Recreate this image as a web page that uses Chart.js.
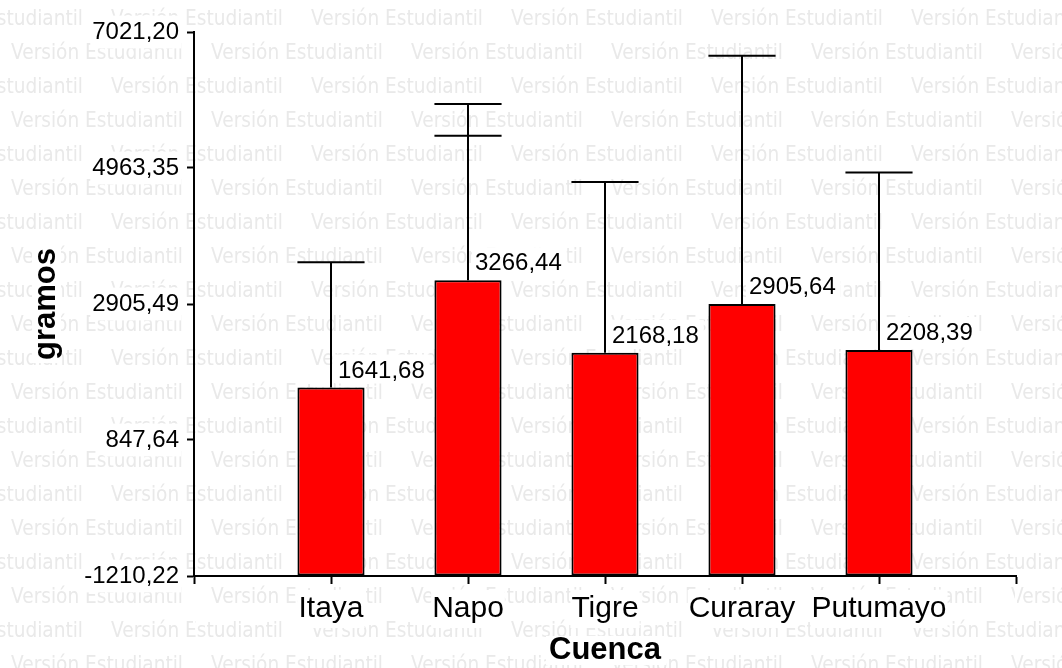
<!DOCTYPE html>
<html>
<head>
<meta charset="utf-8">
<script src="https://cdn.jsdelivr.net/npm/chart.js@4.4.1/dist/chart.umd.min.js"></script>
<style>
    html, body { margin: 0; padding: 0; background: #fff; }
    #wrap { width: 1062px; height: 668px; }
</style>
</head>
<body>
<div id="wrap"><canvas id="cuencaChart" width="1062" height="668"></canvas></div>
<script>
var categories = ['Itaya', 'Napo', 'Tigre', 'Curaray', 'Putumayo'];
var means = [1641.68, 3266.44, 2168.18, 2905.64, 2208.39];
var upperErr = [3539, 5931, 4750, 6662, 4895];
var extraCap = [null, 5451, null, null, null];
var yTicks = [-1210.22, 847.64, 2905.49, 4963.35, 7021.20];
var xTicks = [-1, 0, 1, 2, 3, 4, 5];
var yTitle = 'gramos';
var xTitle = 'Cuenca';
var watermark = 'Versión Estudiantil';

(function () {
    var family = '"Liberation Sans", Arial, sans-serif';
    var numFont = '24px ' + family;

    function fmt(v) {
        return v.toFixed(2).replace('.', ',');
    }

    // light grey "Versión Estudiantil" tiling behind everything
    var watermarkPlugin = {
        id: 'watermark',
        beforeDraw: function (chart) {
            var ctx = chart.ctx;
            ctx.save();
            ctx.fillStyle = '#fff';
            ctx.fillRect(0, 0, chart.width, chart.height);
            ctx.font = '21.5px "DejaVu Sans", sans-serif';
            ctx.fillStyle = '#e9e9e9';
            ctx.textBaseline = 'alphabetic';
            var sx = 172 / ctx.measureText(watermark).width;
            for (var k = 0; k < 20; k++) {
                var y = 25 + 34 * k;
                var start = k % 2 === 0 ? -89 : 11;
                for (var x = start; x < chart.width; x += 200) {
                    ctx.save();
                    ctx.translate(x, y);
                    ctx.scale(sx, 1);
                    ctx.fillText(watermark, 0, 0);
                    ctx.restore();
                }
            }
            ctx.restore();
        }
    };

    function boxedText(ctx, text, x, y, align) {
        var w = ctx.measureText(text).width;
        var left = align === 'center' ? x - w / 2 : x;
        ctx.fillStyle = '#fff';
        ctx.fillRect(left - 3, y - 23, w + 8, 29);
        ctx.fillStyle = '#000';
        ctx.textAlign = align;
        ctx.fillText(text, x, y);
    }

    var errorBarPlugin = {
        id: 'errorBars',
        afterDatasetsDraw: function (chart) {
            var ctx = chart.ctx;
            var xs = chart.scales.x;
            var ys = chart.scales.y;
            var meta = chart.getDatasetMeta(0);

            ctx.save();
            ctx.strokeStyle = '#000';
            ctx.lineWidth = 2;
            means.forEach(function (m, i) {
                var bar = meta.data[i];
                var x = Math.round(xs.getPixelForValue(i));
                var half = bar.width / 2;
                var yb = ys.getPixelForValue(m);
                var yt = ys.getPixelForValue(upperErr[i]);

                ctx.beginPath();
                ctx.moveTo(x, yb);
                ctx.lineTo(x, yt);
                ctx.moveTo(x - half, yt);
                ctx.lineTo(x + half, yt);
                if (extraCap[i] != null) {
                    var ye = ys.getPixelForValue(extraCap[i]);
                    ctx.moveTo(x - half, ye);
                    ctx.lineTo(x + half, ye);
                }
                ctx.stroke();
            });

            ctx.font = numFont;
            ctx.textBaseline = 'alphabetic';
            means.forEach(function (m, i) {
                var x = xs.getPixelForValue(i);
                var yb = ys.getPixelForValue(m);
                boxedText(ctx, fmt(m), x + 7, yb - 10, 'left');
            });
            ctx.restore();
        },
        afterDraw: function (chart) {
            var ctx = chart.ctx;
            var area = chart.chartArea;
            ctx.save();
            ctx.font = 'bold 31px ' + family;
            ctx.textBaseline = 'alphabetic';
            boxedText(ctx, xTitle, (area.left + area.right) / 2, 659, 'center');

            ctx.translate(55, (area.top + area.bottom) / 2);
            ctx.rotate(-Math.PI / 2);
            boxedText(ctx, yTitle, 0, 0, 'center');
            ctx.restore();
        }
    };

    var canvas = document.getElementById('cuencaChart');

    new Chart(canvas.getContext('2d'), {
        type: 'bar',
        data: {
            datasets: [{
                data: means.map(function (m, i) { return { x: i, y: m }; }),
                base: yTicks[0],
                backgroundColor: '#ff0000',
                borderColor: '#000',
                borderWidth: 2,
                borderSkipped: false,
                barPercentage: 0.49,
                categoryPercentage: 1
            }]
        },
        options: {
            responsive: false,
            animation: false,
            events: [],
            layout: { padding: { top: 32, right: 46, left: 0, bottom: 0 } },
            plugins: {
                legend: { display: false },
                tooltip: { enabled: false }
            },
            scales: {
                x: {
                    type: 'linear',
                    min: -1,
                    max: 5,
                    offset: false,
                    afterBuildTicks: function (axis) {
                        axis.ticks = xTicks.map(function (v) { return { value: v }; });
                    },
                    afterFit: function (axis) { axis.height = 92; },
                    grid: {
                        drawOnChartArea: false,
                        drawTicks: true,
                        offset: false,
                        tickLength: 8,
                        tickWidth: 2,
                        tickColor: '#000'
                    },
                    border: { display: true, color: '#000', width: 2 },
                    ticks: {
                        autoSkip: false,
                        maxRotation: 0,
                        padding: 7,
                        color: '#000',
                        font: { size: 30, family: family },
                        showLabelBackdrop: true,
                        backdropColor: '#fff',
                        backdropPadding: 1,
                        callback: function (v) { return categories[v] || ''; }
                    }
                },
                y: {
                    min: yTicks[0],
                    max: yTicks[yTicks.length - 1],
                    afterBuildTicks: function (axis) {
                        axis.ticks = yTicks.map(function (v) { return { value: v }; });
                    },
                    afterFit: function (axis) { axis.width = 194; },
                    grid: {
                        drawOnChartArea: false,
                        drawTicks: true,
                        tickLength: 7,
                        tickWidth: 2,
                        tickColor: '#000'
                    },
                    border: { display: true, color: '#000', width: 2 },
                    ticks: {
                        padding: 8,
                        color: '#000',
                        font: { size: 24, family: family },
                        showLabelBackdrop: true,
                        backdropColor: '#fff',
                        backdropPadding: 2,
                        callback: function (v) { return fmt(v); }
                    }
                }
            }
        },
        plugins: [watermarkPlugin, errorBarPlugin]
    });
})();
</script>
</body>
</html>
